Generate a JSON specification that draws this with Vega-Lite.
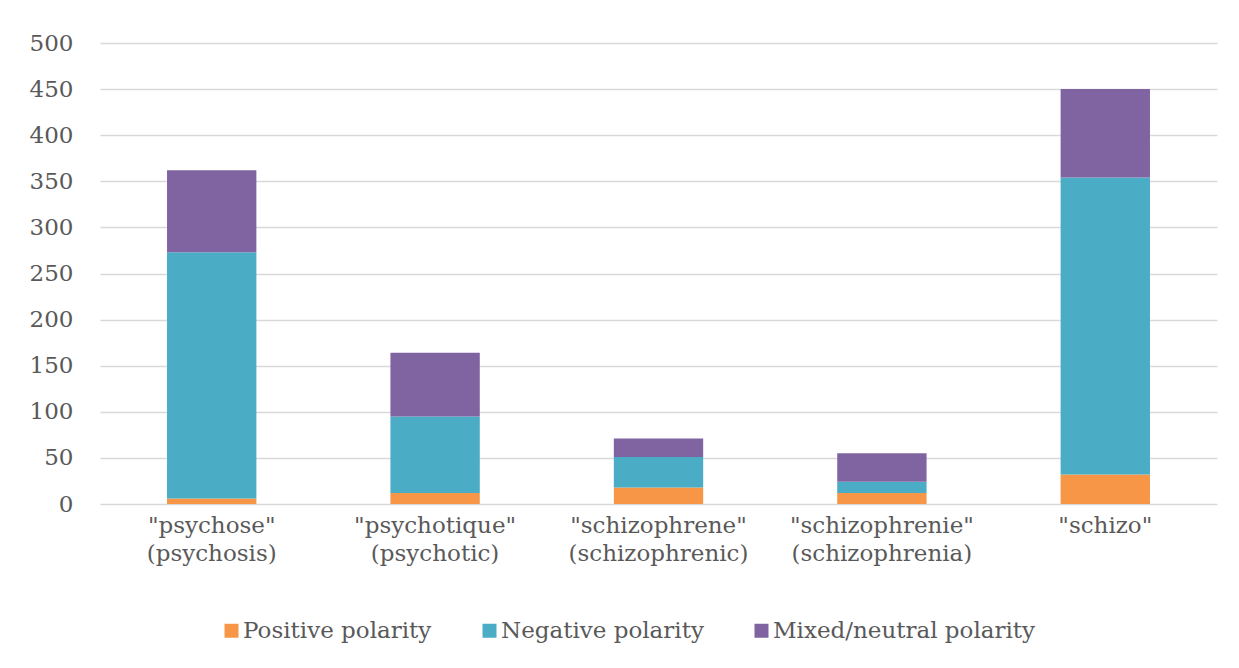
{
  "$schema": "https://vega.github.io/schema/vega-lite/v6.json",
  "width": 1117,
  "height": 461,
  "autosize": "none",
  "padding": {"left": 100, "top": 43, "right": 22, "bottom": 164},
  "background": "white",
  "data": {
    "values": [
      {"term": "\"psychose\"|(psychosis)", "order": 1, "polarity": "Positive polarity", "p": 1, "count": 6},
      {"term": "\"psychose\"|(psychosis)", "order": 1, "polarity": "Negative polarity", "p": 2, "count": 267},
      {"term": "\"psychose\"|(psychosis)", "order": 1, "polarity": "Mixed/neutral polarity", "p": 3, "count": 89},
      {"term": "\"psychotique\"|(psychotic)", "order": 2, "polarity": "Positive polarity", "p": 1, "count": 12},
      {"term": "\"psychotique\"|(psychotic)", "order": 2, "polarity": "Negative polarity", "p": 2, "count": 83},
      {"term": "\"psychotique\"|(psychotic)", "order": 2, "polarity": "Mixed/neutral polarity", "p": 3, "count": 69},
      {"term": "\"schizophrene\"|(schizophrenic)", "order": 3, "polarity": "Positive polarity", "p": 1, "count": 18},
      {"term": "\"schizophrene\"|(schizophrenic)", "order": 3, "polarity": "Negative polarity", "p": 2, "count": 33},
      {"term": "\"schizophrene\"|(schizophrenic)", "order": 3, "polarity": "Mixed/neutral polarity", "p": 3, "count": 20},
      {"term": "\"schizophrenie\"|(schizophrenia)", "order": 4, "polarity": "Positive polarity", "p": 1, "count": 12},
      {"term": "\"schizophrenie\"|(schizophrenia)", "order": 4, "polarity": "Negative polarity", "p": 2, "count": 12},
      {"term": "\"schizophrenie\"|(schizophrenia)", "order": 4, "polarity": "Mixed/neutral polarity", "p": 3, "count": 31},
      {"term": "\"schizo\"", "order": 5, "polarity": "Positive polarity", "p": 1, "count": 32},
      {"term": "\"schizo\"", "order": 5, "polarity": "Negative polarity", "p": 2, "count": 322},
      {"term": "\"schizo\"", "order": 5, "polarity": "Mixed/neutral polarity", "p": 3, "count": 96}
    ]
  },
  "mark": {"type": "bar"},
  "encoding": {
    "x": {
      "field": "term",
      "type": "nominal",
      "sort": {"field": "order"},
      "scale": {"paddingInner": 0.6, "paddingOuter": 0.3},
      "axis": {
        "title": null,
        "domain": false,
        "ticks": false,
        "labelAngle": 0,
        "labelExpr": "split(datum.label, '|')",
        "labelFont": "DejaVu Serif",
        "labelFontSize": 23,
        "labelColor": "#595959",
        "labelPadding": 10,
        "labelLineHeight": 28,
        "labelBaseline": "top",
        "labelLimit": 400
      }
    },
    "y": {
      "field": "count",
      "type": "quantitative",
      "stack": "zero",
      "scale": {"domain": [0, 500]},
      "axis": {
        "title": null,
        "values": [0, 50, 100, 150, 200, 250, 300, 350, 400, 450, 500],
        "domain": false,
        "ticks": false,
        "labelFont": "DejaVu Serif",
        "labelFontSize": 23,
        "labelColor": "#595959",
        "labelPadding": 27,
        "gridColor": "#d9d9d9",
        "gridWidth": 1.5
      }
    },
    "color": {
      "field": "polarity",
      "type": "nominal",
      "sort": ["Positive polarity", "Negative polarity", "Mixed/neutral polarity"],
      "scale": {
        "domain": ["Positive polarity", "Negative polarity", "Mixed/neutral polarity"],
        "range": ["#F79646", "#4BACC6", "#8064A2"]
      },
      "legend": {
        "title": null,
        "orient": "none",
        "direction": "horizontal",
        "legendX": 120,
        "legendY": 576,
        "symbolType": "square",
        "symbolSize": 196,
        "symbolStrokeWidth": 0,
        "labelFont": "DejaVu Serif",
        "labelFontSize": 23,
        "labelColor": "#595959",
        "labelOffset": 0,
        "labelLimit": 400,
        "columnPadding": 46
      }
    },
    "order": {"field": "p", "type": "quantitative"}
  },
  "config": {
    "view": {"stroke": null}
  }
}
